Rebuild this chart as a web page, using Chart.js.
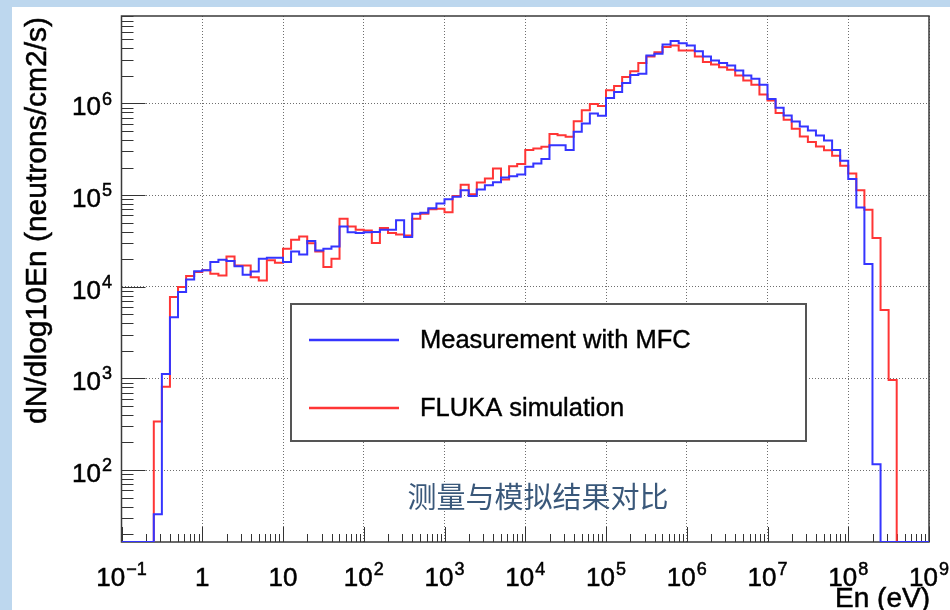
<!DOCTYPE html>
<html>
<head>
<meta charset="utf-8">
<title>Neutron spectrum</title>
<script src="https://cdn.jsdelivr.net/npm/chart.js@4.4.1/dist/chart.umd.min.js"></script>
<style>
  html, body { margin: 0; padding: 0; background: #bdd7ee; }
  #main-content { width: 950px; height: 610px; }
</style>
</head>
<body>
<div id="main-content"><canvas id="spectrum" width="950" height="610"></canvas></div>
<script>
"use strict";

// 10 bins per decade, 10^-1 .. 10^9 eV
var logEMin = -1;
var logEMax = 9;
var binsPerDecade = 10;

// dN/dlog10En, one value per bin (0 = empty bin)
var measuredMFC = [
  0, 0, 0, 0, 33, 1115, 4660, 8740, 12000, 14800,
  15100, 18600, 19700, 19100, 16700, 13500, 14700, 20200, 20700, 20700,
  18600, 24300, 22500, 31500, 24900, 26000, 27500, 45500, 39400, 38500,
  39400, 39600, 42000, 42000, 53100, 34900, 62700, 64200, 72000, 81000,
  90000, 96000, 113000, 97500, 115000, 128000, 138000, 156000, 161000, 168000,
  204000, 221000, 247000, 351000, 351000, 310000, 491000, 605000, 778000, 735000,
  1150000, 1330000, 1670000, 2050000, 2110000, 3340000, 3480000, 4410000, 4790000, 4550000,
  4300000, 3720000, 3260000, 2940000, 2760000, 2600000, 2290000, 2020000, 1860000, 1600000,
  1120000, 897000, 740000, 637000, 561000, 507000, 448000, 395000, 310000, 237000,
  150000, 73300, 17700, 116, 0, 0, 0, 0, 0, 0
];

var flukaSim = [
  0, 0, 0, 0, 339, 810, 7710, 9920, 13100, 14500,
  15100, 13900, 13300, 21400, 17100, 17100, 12700, 11700, 19400, 18300,
  26000, 32600, 35400, 29900, 24300, 16400, 20200, 55200, 45500, 41900,
  41000, 30100, 43700, 38600, 37100, 36300, 55300, 62700, 70000, 71000,
  65000, 97500, 130000, 102000, 137000, 152000, 195000, 148000, 207000, 218000,
  310000, 323000, 337000, 463000, 451000, 433000, 641000, 845000, 984000, 940000,
  1390000, 1550000, 1940000, 2250000, 2760000, 3260000, 3630000, 4120000, 4300000, 3790000,
  3790000, 3260000, 2830000, 2660000, 2490000, 2330000, 2020000, 1780000, 1600000, 1250000,
  1080000, 785000, 664000, 530000, 437000, 379000, 339000, 309000, 268000, 209000,
  172000, 113000, 69200, 34000, 5560, 959, 0, 0, 0, 0
];

var seriesLabels = ["Measurement with MFC", "FLUKA simulation"];

var xTickBase = ["10", "1", "10", "10", "10", "10", "10", "10", "10", "10", "10"];
var xTickExp = ["\u22121", "", "", "2", "3", "4", "5", "6", "7", "8", "9"];
var yTickBase = ["10", "10", "10", "10", "10"];
var yTickExp = ["2", "3", "4", "5", "6"];

var yMin = 16.4;
var yMax = 9.0e6;

var xTitle = "En (eV)";
var yTitle = "dN/dlog10En (neutrons/cm2/s)";
var caption = "测量与模拟结果对比";

var FONT = "'Liberation Sans', Arial, Helvetica, sans-serif";

function histPoints(vals) {
  var pts = [];
  for (var i = 0; i < vals.length; i++) {
    pts.push({ x: Math.pow(10, logEMin + i / binsPerDecade), y: vals[i] > 0 ? vals[i] : yMin });
  }
  pts.push({ x: Math.pow(10, logEMax), y: pts[pts.length - 1].y });
  return pts;
}

function decadeTicks(scale) {
  var t = [];
  var lo = Math.ceil(Math.log10(scale.min) - 1e-9);
  var hi = Math.floor(Math.log10(scale.max) + 1e-9);
  for (var d = lo; d <= hi; d++) t.push({ value: Math.pow(10, d) });
  scale.ticks = t;
}

// ROOT text looks a bit heavier than plain canvas text
function heavyText(ctx, txt, x, y) {
  ctx.fillText(txt, x, y);
  ctx.strokeText(txt, x, y);
}

// draws "10" with a smaller raised exponent; align = 'center' | 'right'
function drawPower(ctx, base, exp, x, y, align, size) {
  var expSize = Math.round(size * 0.68);
  ctx.font = size + "px " + FONT;
  var wb = ctx.measureText(base).width;
  ctx.font = expSize + "px " + FONT;
  var we = exp ? ctx.measureText(exp).width + 1 : 0;
  var w = wb + we;
  var x0 = align === "right" ? x - w : x - w / 2;
  ctx.textAlign = "left";
  ctx.textBaseline = "alphabetic";
  ctx.font = size + "px " + FONT;
  heavyText(ctx, base, x0, y);
  if (exp) {
    ctx.font = expSize + "px " + FONT;
    heavyText(ctx, exp, x0 + wb + 1, y - size * 0.42);
  }
}

var rootStyle = {
  id: "rootStyle",
  beforeDraw: function (chart) {
    var ctx = chart.ctx;
    ctx.save();
    ctx.fillStyle = "#bdd7ee";
    ctx.fillRect(0, 0, chart.width, chart.height);
    ctx.fillStyle = "#ffffff";
    ctx.fillRect(12, 7, chart.width - 12, chart.height - 7);
    ctx.restore();
  },
  // frame and ticks go under the histograms, like ROOT
  beforeDatasetsDraw: function (chart) {
    var ctx = chart.ctx;
    var a = chart.chartArea;
    var xs = chart.scales.x;
    var ys = chart.scales.y;
    var d, m, v, p;

    ctx.save();
    ctx.strokeStyle = "#333333";
    ctx.lineWidth = 1;
    ctx.beginPath();
    for (d = logEMin; d <= logEMax; d++) {
      for (m = 1; m < 10; m++) {
        v = m * Math.pow(10, d);
        if (v > xs.max * 1.0001) break;
        p = Math.round(xs.getPixelForValue(v)) + 0.5;
        ctx.moveTo(p, a.bottom);
        ctx.lineTo(p, a.bottom - (m === 1 ? 15 : 8));
      }
    }
    for (d = Math.floor(Math.log10(yMin)); d <= Math.ceil(Math.log10(yMax)); d++) {
      for (m = 1; m < 10; m++) {
        v = m * Math.pow(10, d);
        if (v < yMin || v > yMax) continue;
        p = Math.round(ys.getPixelForValue(v)) + 0.5;
        ctx.moveTo(a.left, p);
        ctx.lineTo(a.left + (m === 1 ? 24 : 12), p);
      }
    }
    ctx.stroke();

    ctx.strokeStyle = "#3a3a3a";
    ctx.lineWidth = 1.5;
    ctx.strokeRect(a.left, a.top, a.right - a.left, a.bottom - a.top);
    ctx.restore();
  },
  afterDraw: function (chart) {
    var ctx = chart.ctx;
    var a = chart.chartArea;
    var xs = chart.scales.x;
    var ys = chart.scales.y;

    ctx.save();
    ctx.fillStyle = "#000000";
    ctx.strokeStyle = "#000000";
    ctx.lineWidth = 0.5;
    xs.ticks.forEach(function (t, i) {
      drawPower(ctx, xTickBase[i], xTickExp[i], xs.getPixelForValue(t.value), 586, "center", 26);
    });
    ys.ticks.forEach(function (t, i) {
      drawPower(ctx, yTickBase[i], yTickExp[i], 112, ys.getPixelForValue(t.value) + 12, "right", 26);
    });

    // axis titles
    ctx.font = "28px " + FONT;
    ctx.textAlign = "right";
    ctx.textBaseline = "alphabetic";
    heavyText(ctx, xTitle, a.right + 1, 607);

    ctx.save();
    ctx.translate(38, a.top + 1);
    ctx.rotate(-Math.PI / 2);
    ctx.font = "30px " + FONT;
    ctx.textAlign = "right";
    ctx.textBaseline = "middle";
    heavyText(ctx, yTitle, 0, 0);
    ctx.restore();

    // legend box
    ctx.fillStyle = "#ffffff";
    ctx.fillRect(291, 304, 515, 137);
    ctx.strokeStyle = "#555555";
    ctx.lineWidth = 2;
    ctx.strokeRect(291, 304, 515, 137);
    var rows = [340, 408];
    chart.data.datasets.forEach(function (ds, i) {
      ctx.strokeStyle = ds.borderColor;
      ctx.lineWidth = 2.5;
      ctx.beginPath();
      ctx.moveTo(309, rows[i]);
      ctx.lineTo(399, rows[i]);
      ctx.stroke();
      ctx.fillStyle = "#000000";
      ctx.strokeStyle = "#000000";
      ctx.lineWidth = 0.4;
      ctx.font = "25.5px " + FONT;
      ctx.textAlign = "left";
      ctx.textBaseline = "middle";
      heavyText(ctx, ds.label, 420, rows[i] + 1);
    });

    // caption
    ctx.fillStyle = "#3a587a";
    ctx.font = "29px 'Noto Sans CJK SC', sans-serif";
    ctx.textAlign = "center";
    ctx.textBaseline = "middle";
    ctx.fillText(caption, 538, 497);
    ctx.restore();
  }
};

var gridStyle = {
  color: "#6e6e6e",
  lineWidth: 1,
  drawTicks: false
};

var ctx = document.getElementById("spectrum");
new Chart(ctx, {
  type: "line",
  data: {
    datasets: [
      {
        label: seriesLabels[0],
        data: histPoints(measuredMFC),
        borderColor: "#3535ff",
        borderWidth: 2,
        pointRadius: 0,
        stepped: "before",
        fill: false
      },
      {
        label: seriesLabels[1],
        data: histPoints(flukaSim),
        borderColor: "#ff3535",
        borderWidth: 2,
        pointRadius: 0,
        stepped: "before",
        fill: false
      }
    ]
  },
  options: {
    responsive: false,
    animation: false,
    events: [],
    layout: { padding: { left: 0, right: 21, top: 16, bottom: 0 } },
    plugins: { legend: { display: false }, tooltip: { enabled: false } },
    scales: {
      x: {
        type: "logarithmic",
        min: Math.pow(10, logEMin),
        max: Math.pow(10, logEMax),
        afterBuildTicks: decadeTicks,
        afterFit: function (s) { s.height = 68; },
        ticks: { display: false },
        grid: gridStyle,
        border: { display: false, dash: [1, 2] }
      },
      y: {
        type: "logarithmic",
        min: yMin,
        max: yMax,
        afterBuildTicks: decadeTicks,
        afterFit: function (s) { s.width = 121.5; },
        ticks: { display: false },
        grid: gridStyle,
        border: { display: false, dash: [1, 2] }
      }
    }
  },
  plugins: [rootStyle]
});
</script>
</body>
</html>
